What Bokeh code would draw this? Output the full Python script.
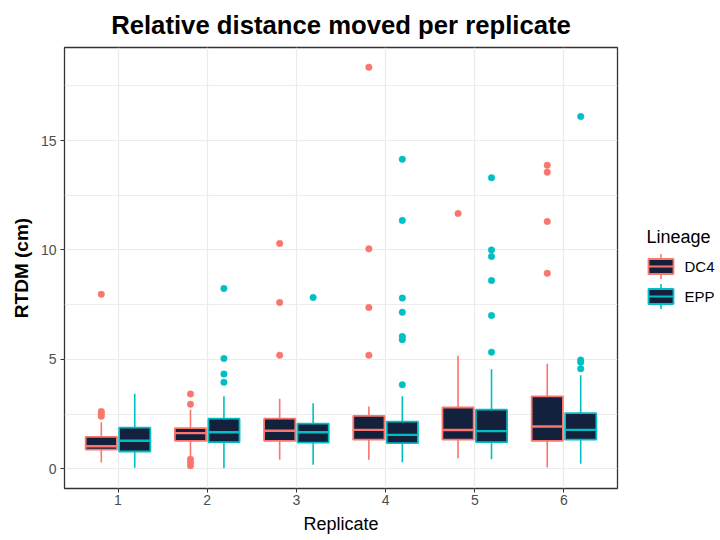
from bokeh.plotting import figure
from bokeh.layouts import row
from bokeh.models import Range1d, FixedTicker, ColumnDataSource
from bokeh.core.properties import value
from bokeh.embed import file_html
from bokeh.resources import INLINE

# ---- data -------------------------------------------------------------
replicates = [1, 2, 3, 4, 5, 6]
lineages = ["DC4", "EPP"]

# box statistics per replicate: lower whisker, Q1, median, Q3, upper whisker
dc4_lower = [0.29, 0.56, 0.41, 0.41, 0.48, 0.06]
dc4_q1 = [0.88, 1.28, 1.28, 1.33, 1.33, 1.28]
dc4_median = [1.03, 1.63, 1.74, 1.78, 1.77, 1.93]
dc4_q3 = [1.46, 1.86, 2.29, 2.42, 2.80, 3.31]
dc4_upper = [2.13, 2.70, 3.20, 2.85, 5.17, 4.80]

epp_lower = [0.05, 0.03, 0.18, 0.30, 0.44, 0.23]
epp_q1 = [0.79, 1.22, 1.20, 1.17, 1.22, 1.33]
epp_median = [1.28, 1.67, 1.67, 1.55, 1.72, 1.78]
epp_q3 = [1.88, 2.29, 2.06, 2.16, 2.70, 2.54]
epp_upper = [3.43, 3.31, 3.00, 3.31, 4.55, 4.27]

# outlying observations (replicate, RTDM)
dc4_out_rep = [1, 1, 1, 1, 2, 2, 2, 2, 2, 3, 3, 3, 4, 4, 4, 4, 5, 6, 6, 6, 6]
dc4_out_val = [2.40, 2.52, 2.62, 7.97, 3.42, 2.95, 0.44, 0.30, 0.14,
               10.30, 7.60, 5.19, 18.35, 10.05, 7.37, 5.19, 11.67,
               8.93, 11.30, 13.55, 13.87]

epp_out_rep = [2, 2, 2, 2, 3, 4, 4, 4, 4, 4, 4, 4, 5, 5, 5, 5, 5, 5, 6, 6, 6, 6]
epp_out_val = [8.24, 5.04, 4.33, 3.95, 7.83, 3.84, 5.90, 6.05, 7.15, 7.80,
               11.35, 14.14, 5.33, 7.00, 8.60, 9.70, 10.00, 13.30,
               4.57, 4.87, 4.97, 16.10]

# ---- styling ----------------------------------------------------------
FONT = "Liberation Sans"
BOX_FILL = "#14213D"
COLORS = {"DC4": "#F8766D", "EPP": "#00BFC4"}
DODGE = 0.1875
BOX_W = 0.35
FRAME_TOP, FRAME_BOTTOM = 47, 488

p = figure(width=630, height=540,
           x_range=Range1d(0.4, 6.6), y_range=Range1d(-0.9, 19.25),
           output_backend="svg", toolbar_location=None,
           min_border_left=64, min_border_right=13,
           min_border_top=FRAME_TOP, min_border_bottom=540 - FRAME_BOTTOM,
           background_fill_color="white", border_fill_color="white")

p.title.text = "Relative distance moved per replicate"
p.title.text_font = FONT
p.title.text_font_size = "25.7px"
p.title.text_font_style = "bold"
p.title.text_color = "black"
p.title.align = "center"
p.title.standoff = 17

p.outline_line_color = "#333333"
p.outline_line_width = 1.3

p.xaxis.ticker = FixedTicker(ticks=replicates)
p.yaxis.ticker = FixedTicker(ticks=[0, 5, 10, 15], minor_ticks=[2.5, 7.5, 12.5, 17.5])
p.xaxis.axis_label = "Replicate"
p.yaxis.axis_label = "RTDM (cm)"
for ax in (p.xaxis, p.yaxis):
    ax.axis_line_color = None
    ax.major_tick_line_color = "#333333"
    ax.major_tick_out = 4
    ax.major_tick_in = 0
    ax.minor_tick_line_color = None
    ax.major_label_text_font = FONT
    ax.major_label_text_font_size = "14px"
    ax.major_label_text_color = "#4D4D4D"
    ax.axis_label_text_font = FONT
    ax.axis_label_text_color = "black"
    ax.major_label_standoff = 4
    ax.axis_label_standoff = 6
p.xaxis.major_label_standoff = 2
p.xaxis.axis_label_text_font_size = "18px"
p.xaxis.axis_label_text_font_style = "normal"
p.yaxis.axis_label_text_font_size = "19px"
p.yaxis.axis_label_text_font_style = "bold"

p.xgrid.grid_line_color = "#EBEBEB"
p.xgrid.grid_line_width = 1.2
p.ygrid.grid_line_color = "#EBEBEB"
p.ygrid.grid_line_width = 1.2
p.ygrid.minor_grid_line_color = "#EBEBEB"
p.ygrid.minor_grid_line_width = 0.9

series = {
    "DC4": (dc4_lower, dc4_q1, dc4_median, dc4_q3, dc4_upper, dc4_out_rep, dc4_out_val, -DODGE),
    "EPP": (epp_lower, epp_q1, epp_median, epp_q3, epp_upper, epp_out_rep, epp_out_val, DODGE),
}

for name in lineages:
    lo, q1, med, q3, hi, orep, oval, shift = series[name]
    col = COLORS[name]
    xs = [r + shift for r in replicates]
    src = ColumnDataSource(dict(x=xs, x0=[x - BOX_W / 2 for x in xs],
                                x1=[x + BOX_W / 2 for x in xs],
                                lo=lo, q1=q1, med=med, q3=q3, hi=hi))
    p.segment(x0="x", y0="lo", x1="x", y1="hi", source=src,
              line_color=col, line_width=1.6)
    p.quad(left="x0", right="x1", bottom="q1", top="q3", source=src,
           fill_color=BOX_FILL, line_color=col, line_width=1.8)
    p.segment(x0="x0", y0="med", x1="x1", y1="med", source=src,
              line_color=col, line_width=2.4)
    p.scatter(x=[r + shift for r in orep], y=oval, size=6.5,
              fill_color=col, line_color=col, line_width=0.5)

# ---- legend panel (frame aligned with the plot frame; units = page pixels)
leg = figure(title=None, width=90, height=540,
             x_range=Range1d(630, 720), y_range=Range1d(FRAME_BOTTOM, FRAME_TOP),
             output_backend="svg", toolbar_location=None,
             x_axis_location=None, y_axis_location=None,
             min_border_left=0, min_border_right=0,
             min_border_top=FRAME_TOP, min_border_bottom=540 - FRAME_BOTTOM,
             background_fill_color="white", border_fill_color="white")
leg.outline_line_color = None
leg.grid.visible = False

leg.text(x=[646], y=[236], text=["Lineage"], text_font=value(FONT),
         text_font_size=value("18px"), text_color="black",
         text_baseline="middle", text_align="left")
key_cx, key_w, key_h = 660.5, 25, 15
for i, name in enumerate(lineages):
    cy = 266 + 30 * i
    col = COLORS[name]
    leg.segment(x0=[key_cx], y0=[cy - 12.5], x1=[key_cx], y1=[cy + 12.5],
                line_color=col, line_width=1.6)
    leg.quad(left=[key_cx - key_w / 2], right=[key_cx + key_w / 2],
             top=[cy - key_h / 2], bottom=[cy + key_h / 2],
             fill_color=BOX_FILL, line_color=col, line_width=1.8)
    leg.segment(x0=[key_cx - key_w / 2], y0=[cy], x1=[key_cx + key_w / 2], y1=[cy],
                line_color=col, line_width=2.2)
    leg.text(x=[684], y=[cy], text=[name], text_font=value(FONT),
             text_font_size=value("15px"), text_color="black",
             text_baseline="middle", text_align="left")

layout = row(p, leg, spacing=0)
open("out.html", "w").write(file_html(layout, INLINE))
